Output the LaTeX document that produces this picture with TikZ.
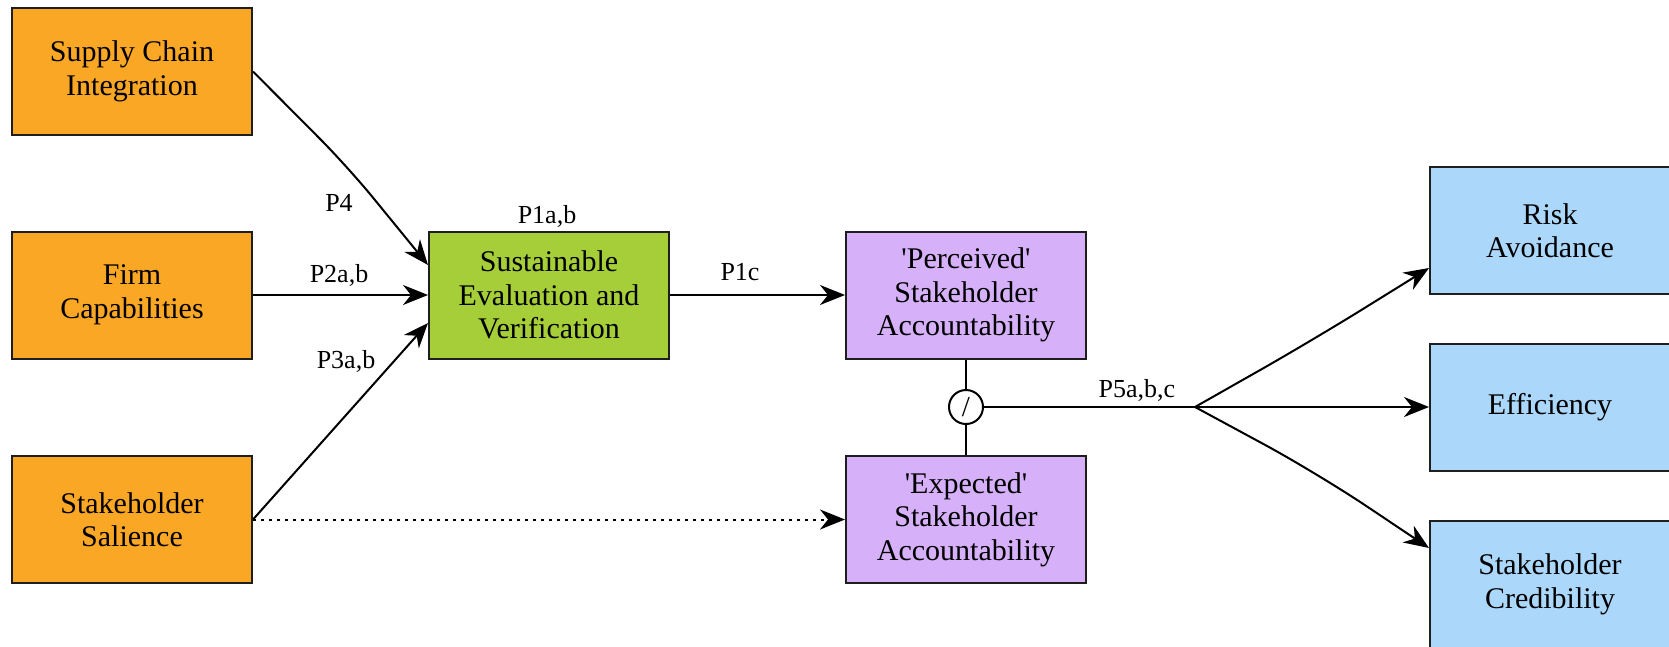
\documentclass[tikz,border=0pt]{standalone}
\usepackage{fontspec}
\setmainfont{Liberation Serif}
\usetikzlibrary{arrows.meta,calc}
\definecolor{orangefill}{RGB}{250,167,38}
\definecolor{greenfill}{RGB}{166,206,57}
\definecolor{purplefill}{RGB}{214,177,250}
\definecolor{bluefill}{RGB}{171,215,250}
\definecolor{edgecol}{RGB}{30,30,30}
\begin{document}
\begin{tikzpicture}[x=1pt,y=-1pt,
  box/.style={draw=edgecol,line width=2pt,minimum width=240pt,minimum height=127pt,
    align=center,font=\fontsize{30}{33.5}\selectfont,inner sep=0pt},
  lab/.style={font=\fontsize{26}{28}\selectfont,anchor=base,inner sep=0pt},
  conn/.style={line width=2pt,draw=black,-{Stealth[length=25pt,width=20pt,inset=8pt]}},
  plain/.style={line width=2pt,draw=black},
  dotline/.style={conn,dash pattern=on 3pt off 5pt}
]
\useasboundingbox (0,0) rectangle (1669,646);

% boxes
\node[box,fill=orangefill] (sci) at (132,71.5) {Supply Chain\\Integration};
\node[box,fill=orangefill] (firm) at (132,295) {Firm\\Capabilities};
\node[box,fill=orangefill] (sal) at (132,519.5) {Stakeholder\\Salience};
\node[box,fill=greenfill] (sev) at (549,295) {Sustainable\\Evaluation and\\Verification};
\node[box,fill=purplefill] (per) at (966,295) {\textquotesingle Perceived\textquotesingle\\Stakeholder\\Accountability};
\node[box,fill=purplefill] (exp) at (966,519.5) {\textquotesingle Expected\textquotesingle\\Stakeholder\\Accountability};
\node[box,fill=bluefill] (risk) at (1550,230.5) {Risk\\Avoidance};
\node[box,fill=bluefill] (eff) at (1550,407) {Efficiency};
\node[box,fill=bluefill] (cred) at (1550,584.5) {Stakeholder\\Credibility};

% moderator circle
\node[circle,draw=black,line width=2pt,minimum size=34pt,inner sep=0pt,fill=white,
  font=\fontsize{29}{30}\selectfont] (mod) at (966,407) {/};

% helper coordinates
\coordinate (k1) at (348,167);
\coordinate (in1) at ($(sev.west)+(0,-30)$);
\coordinate (in3) at ($(sev.west)+(0,28)$);
\coordinate (fork) at (1195,407);
\coordinate (k2) at (1313,340);
\coordinate (k3) at (1317,473);
\coordinate (rin) at ($(risk.west)+(0,37.5)$);
\coordinate (cin) at ($(cred.west)+(0,-36.5)$);

% connectors
\draw[conn,rounded corners=40pt] (sci.east) -- (k1) -- (in1);
\draw[conn] (firm.east) -- (sev.west);
\draw[conn] (sal.east) -- (in3);
\draw[dotline] (sal.east) -- (exp.west);
\draw[conn] (sev.east) -- (per.west);
\draw[plain] (per.south) -- (mod.north);
\draw[plain] (mod.south) -- (exp.north);
\draw[plain] (mod.east) -- (fork);
\draw[conn,rounded corners=60pt] (fork) -- (k2) -- (rin);
\draw[conn] (fork) -- (eff.west);
\draw[conn,rounded corners=60pt] (fork) -- (k3) -- (cin);

% labels
\node[lab] (l4) at (339,211) {P4};
\node[lab] (l2) at (339,282) {P2a,b};
\node[lab] (l3) at (346,368) {P3a,b};
\node[lab] (l1ab) at (547,223) {P1a,b};
\node[lab] (l1c) at (740,280) {P1c};
\node[lab] (l5) at (1137,397) {P5a,b,c};
\end{tikzpicture}
\end{document}
